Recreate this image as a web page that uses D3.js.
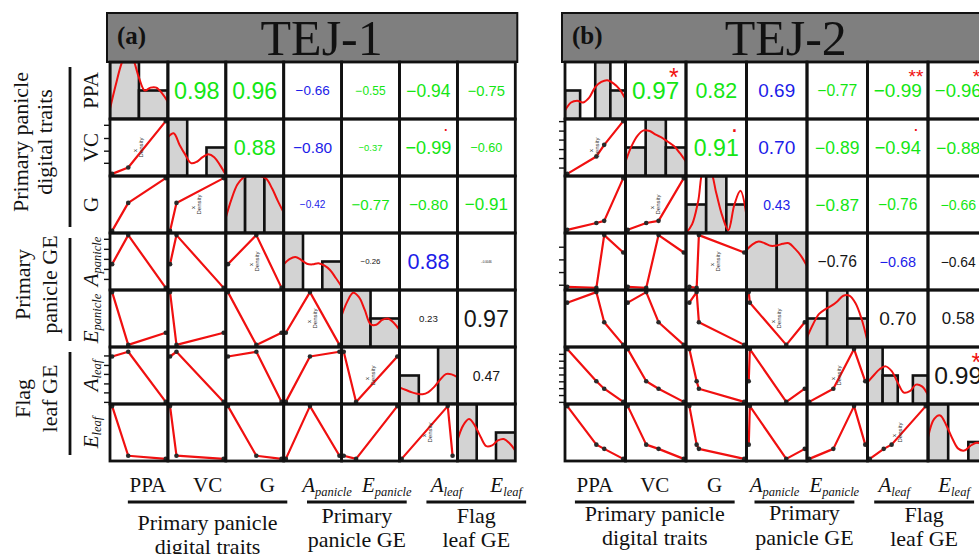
<!DOCTYPE html>
<html><head><meta charset="utf-8">
<script src="https://cdn.jsdelivr.net/npm/d3@7"></script>
<style>body{margin:0;background:#fff}svg{display:block}</style>
</head><body>
<svg id="chart" width="979" height="554"></svg>
<script>
// ---------------- DATA ----------------
const traits = ["PPA","VC","G","Apanicle","Epanicle","Aleaf","Eleaf"];
const traitMain = ["PPA","VC","G","A","E","A","E"];
const traitSub  = ["","","","panicle","panicle","leaf","leaf"];
const groupNames = [["Primary panicle","digital traits"],["Primary","panicle GE"],["Flag","leaf GE"]];
const groupSpans = [[0,2],[3,4],[5,6]];

// TEJ-1 observations (n = 3), each trait scaled to its own range
const tej1PPA = [0, 0.30, 1];
const tej1VC  = [0, 0.12, 1];
const tej1G   = [0, 0.53, 1];
const tej1Ap  = [0.45, 1, 0];
const tej1Ep  = [1, 0, 0.23];
const tej1Al  = [0.86, 0.95, 0];
const tej1El  = [1, 0.06, 0];
// TEJ-2 observations (n = 4)
const tej2PPA = [0, 0.52, 0.66, 1];
const tej2VC  = [0, 0.33, 0.55, 1];
const tej2G   = [0.02, 0.15, 0.19, 1];
const tej2Ap  = [0.02, 0, 1, 0.67];
const tej2Ep  = [0.8, 1, 0.43, 0];
const tej2Al  = [1, 0.39, 0.25, 0];
const tej2El  = [1, 0.27, 0.19, 0];

// correlations, upper triangle row by row
const tej1R = [0.98, 0.96, -0.66, -0.55, -0.94, -0.75,
               0.88, -0.80, -0.37, -0.99, -0.60,
               -0.42, -0.77, -0.80, -0.91,
               -0.26, 0.88, -0.0046,
               0.23, 0.97,
               0.47];
const tej1Sig = ["","","","","","",  "","","",".","",  "","","","",  "","","",  "","",  ""];
const tej2R = [0.97, 0.82, 0.69, -0.77, -0.99, -0.96,
               0.91, 0.70, -0.89, -0.94, -0.88,
               0.43, -0.87, -0.76, -0.66,
               -0.76, -0.68, -0.64,
               0.70, 0.58,
               0.99];
const tej2Sig = ["*","","","","**","*",  ".","","",".","",  "","","","",  "","","",  "","",  "*"];

// histogram counts on the diagonal
const tej1HistPPA = [2,1], tej1HistVC = [2,0,1], tej1HistG = [1,1,1], tej1HistAp = [2,0,1],
      tej1HistEp = [2,1], tej1HistAl = [1,0,2], tej1HistEl = [2,0,1];
const tej2HistPPA = [1,0,2,1], tej2HistVC = [1,2,1], tej2HistG = [1,2,1], tej2HistAp = [2,2],
      tej2HistEp = [1,2,1], tej2HistAl = [2,1,0,1], tej2HistEl = [3,0,1];

// density curves (count units), sampled evenly across each diagonal panel
const tej1DensPPA = [0.36,1.2,1.95,2.4,2.1,1.45,1.0,1.1,1.1,0.9,0.6];
const tej1DensVC  = [1.36,1.5,1.1,0.75,0.45,0.5,0.66,0.76,0.66,0.38,0.04];
const tej1DensG   = [0.27,0.6,0.85,0.97,1.02,1.03,1.0,0.95,0.78,0.56,0.36];
const tej1DensAp  = [0.9,1.08,1.16,1.06,0.92,0.9,0.94,0.86,0.7,0.42,0.12];
const tej1DensEp  = [1.1,1.6,1.9,1.75,1.3,0.8,0.78,0.95,1.0,0.85,0.6];
const tej1DensAl  = [0.58,0.5,0.42,0.36,0.34,0.42,0.6,0.85,1.05,1.04,0.94];
const tej1DensEl  = [0.72,1.25,1.47,1.25,0.85,0.52,0.55,0.72,0.77,0.62,0.36];
const tej2DensPPA = [0.3,0.58,0.64,0.58,0.75,1.12,1.3,1.36,1.25,1.05,0.7];
const tej2DensVC  = [0.5,1.05,1.42,1.6,1.58,1.45,1.35,1.2,1.05,0.8,0.5];
const tej2DensG   = [0,0.3,1.1,2.3,2.2,1.4,0.6,0.1,1.0,1.48,0.6];
const tej2DensAp  = [1.4,1.6,1.7,1.64,1.55,1.56,1.62,1.64,1.45,1.2,0.84];
const tej2DensEp  = [0.34,0.8,1.16,1.32,1.44,1.6,1.8,1.8,1.54,1.0,0.2];
const tej2DensAl  = [0.76,1.0,1.22,1.32,1.15,0.75,0.4,0.45,0.68,0.62,0.32];
const tej2DensEl  = [1.23,2.2,2.4,1.9,1.2,0.65,0.55,0.8,0.96,0.9,0.7];

// left-axis tick values (scaled trait units) on rows VC, Apanicle, Aleaf
const tej1TicksVC = [0.21,0.44,0.68,0.93];
const tej1TicksAp = [0.17,0.36,0.55,0.74,0.93];
const tej1TicksAl = [0,0.18,0.35,0.53,0.7,0.88];
const tej2TicksVC = [0.12,0.3,0.47,0.65,0.82,1.0];
const tej2TicksAp = [0.06,0.3,0.54,0.78];
const tej2TicksAl = [0,0.13,0.26,0.39,0.52,0.65,0.78,0.91];

// ---------------- DRAWING ----------------
const SANS = "'Liberation Sans', Arial, sans-serif";
const SERIF = "'Liberation Serif', 'Times New Roman', serif";
const GREEN = "#14e614", BLUE = "#1c1ce8", BLACK = "#161616", RED = "#f01010";
const n = traits.length;
const svg = d3.select("#chart");

const meas = svg.append("text").attr("font-family", SANS).attr("font-size", 100).attr("visibility", "hidden");
function textLen(s) { meas.text(s); return meas.node().getComputedTextLength(); }
const fmt2 = d3.format(".2f"), fmt4 = d3.format(".4f");
function fmtR(r) { return Math.abs(r) < 0.01 ? fmt4(r) : fmt2(r); }
function corColor(i, j) {
  if (j === 3 && i <= 2) return BLUE;
  if (i === 3 && j === 5) return BLUE;
  if (i <= 2) return GREEN;
  return BLACK;
}
function upperIndex(i, j) { return i * n - i * (i + 1) / 2 + (j - i - 1); }

const panels = [
  { tag: "(a)", title: "TEJ-1", x0: 110, y0: 62, cw: 57.9, ch: 57,
    obs: [tej1PPA, tej1VC, tej1G, tej1Ap, tej1Ep, tej1Al, tej1El],
    hist: [tej1HistPPA, tej1HistVC, tej1HistG, tej1HistAp, tej1HistEp, tej1HistAl, tej1HistEl],
    dens: [tej1DensPPA, tej1DensVC, tej1DensG, tej1DensAp, tej1DensEp, tej1DensAl, tej1DensEl],
    r: tej1R, sig: tej1Sig, ticks: {1: tej1TicksVC, 3: tej1TicksAp, 5: tej1TicksAl},
    labX: [118, 536], groupBase: [[530, 554], [523, 547], [523, 547]], leftLabels: true },
  { tag: "(b)", title: "TEJ-2", x0: 565, y0: 62, cw: 60.5, ch: 57,
    obs: [tej2PPA, tej2VC, tej2G, tej2Ap, tej2Ep, tej2Al, tej2El],
    hist: [tej2HistPPA, tej2HistVC, tej2HistG, tej2HistAp, tej2HistEp, tej2HistAl, tej2HistEl],
    dens: [tej2DensPPA, tej2DensVC, tej2DensG, tej2DensAp, tej2DensEp, tej2DensAl, tej2DensEl],
    r: tej2R, sig: tej2Sig, ticks: {1: tej2TicksVC, 3: tej2TicksAp, 5: tej2TicksAl},
    labX: [565, 984], groupBase: [[521, 545], [520, 545], [522, 546]], leftLabels: false }
];

function drawPanel(p) {
  const colX = d3.scaleLinear([0, n], [p.x0, p.x0 + n * p.cw]);
  const rowY = d3.scaleLinear([0, n], [p.y0, p.y0 + n * p.ch]);
  const g = svg.append("g");

  // header bar
  g.append("rect").attr("x", p.x0 - 3).attr("y", 13).attr("width", n * p.cw + 5).attr("height", p.y0 - 13)
    .attr("fill", "#7f7f7f").attr("stroke", "#111").attr("stroke-width", 2);
  g.append("text").attr("x", p.x0 + 7).attr("y", 44).attr("font-family", SERIF).attr("font-weight", "bold")
    .attr("font-size", 25).attr("fill", "#111").text(p.tag);
  g.append("text").attr("x", p.x0 + n * p.cw / 2 + 9).attr("y", 55).attr("text-anchor", "middle")
    .attr("font-family", SERIF).attr("font-size", 50).attr("fill", "#111").text(p.title);

  const sx = d3.scaleLinear([-0.04, 1.04], [0, p.cw]);
  const sy = d3.scaleLinear([-0.04, 1.04], [p.ch, 0]);

  for (let i = 0; i < n; i++) {
    for (let j = 0; j < n; j++) {
      const cell = g.append("svg").attr("x", colX(j)).attr("y", rowY(i))
        .attr("width", p.cw).attr("height", p.ch).attr("overflow", "hidden");
      cell.append("rect").attr("width", p.cw).attr("height", p.ch).attr("fill", "#fff");
      if (i === j) {
        const counts = p.hist[i], nb = counts.length, maxC = d3.max(counts);
        const hx = d3.scaleLinear([0, nb], [0, p.cw]);
        const hy = d3.scaleLinear([0, maxC], [p.ch, 0]);
        cell.selectAll("rect.bar").data(counts.map((c, k) => ({c, k})).filter(d => d.c > 0)).join("rect")
          .attr("class", "bar").attr("x", d => hx(d.k)).attr("width", d => hx(d.k + 1) - hx(d.k))
          .attr("y", d => hy(d.c)).attr("height", d => p.ch - hy(d.c))
          .attr("fill", "#d3d3d3").attr("stroke", "#111").attr("stroke-width", 2.6);
        const dens = p.dens[i];
        const dx = d3.scaleLinear([0, dens.length - 1], [0, p.cw]);
        const line = d3.line().x((d, k) => dx(k)).y(d => hy(d)).curve(d3.curveCatmullRom.alpha(0.5));
        cell.append("path").attr("d", line(dens)).attr("fill", "none").attr("stroke", RED).attr("stroke-width", 2);
      } else if (i > j) {
        const xs = p.obs[j], ys = p.obs[i];
        const pts = d3.sort(xs.map((x, k) => [x, ys[k]]), d => d[0]);
        cell.append("path").attr("d", d3.line().x(d => sx(d[0])).y(d => sy(d[1]))(pts))
          .attr("fill", "none").attr("stroke", RED).attr("stroke-width", 2.2).attr("stroke-linejoin", "round");
        cell.selectAll("circle").data(pts).join("circle")
          .attr("cx", d => sx(d[0])).attr("cy", d => sy(d[1])).attr("r", 2.3).attr("fill", "#2a2a2a");
        if (i === j + 1) {
          cell.append("text").attr("transform", `translate(${p.cw / 2 + 4},${p.ch / 2}) rotate(-90)`)
            .attr("text-anchor", "middle").attr("font-family", SANS).attr("font-size", 6).attr("fill", "#333").text("Density");
          cell.append("text").attr("transform", `translate(${p.cw / 2 - 2},${p.ch / 2 + 3}) rotate(-90)`)
            .attr("text-anchor", "middle").attr("font-family", SANS).attr("font-size", 6).attr("fill", "#333").text("x");
        }
      } else {
        const k = upperIndex(i, j);
        const r = p.r[k], txt = fmtR(r);
        const base = 100 * 0.8 * p.cw / textLen(txt);
        const fs = base * (Math.abs(r) + 0.3) / 1.3;
        cell.append("text").attr("x", p.cw / 2).attr("y", p.ch / 2).attr("text-anchor", "middle")
          .attr("dominant-baseline", "central").attr("font-family", SANS).attr("font-size", fs)
          .attr("fill", corColor(i, j)).text(txt);
        const s = p.sig[k];
        if (s) {
          cell.append("text").attr("x", 0.8 * p.cw).attr("y", 0.2 * p.ch + (s === "." ? 0.05 : 0.5) * base)
            .attr("text-anchor", "middle").attr("font-family", SANS).attr("font-size", base)
            .attr("fill", RED).text(s);
        }
      }
    }
  }
  // cell borders
  for (let i = 0; i < n; i++) for (let j = 0; j < n; j++) {
    g.append("rect").attr("x", colX(j)).attr("y", rowY(i)).attr("width", p.cw).attr("height", p.ch)
      .attr("fill", "none").attr("stroke", "#111").attr("stroke-width", 2.8);
  }
  // left ticks
  Object.entries(p.ticks).forEach(([ri, vals]) => {
    const i = +ri;
    const ys = d3.scaleLinear([-0.04, 1.04], [rowY(i + 1), rowY(i)]);
    const ax = g.append("g").attr("transform", `translate(${p.x0 - 1},0)`)
      .call(d3.axisLeft(ys).tickValues(vals).tickFormat("").tickSize(5).tickSizeOuter(0));
    ax.select(".domain").remove();
    ax.selectAll("line").attr("stroke", "#111").attr("stroke-width", 1.4);
  });

  // bottom labels
  const lb = d3.scaleBand().domain(d3.range(n)).range(p.labX);
  const cx = k => lb(k) + lb.bandwidth() / 2;
  for (let k = 0; k < n; k++) {
    const t = g.append("text").attr("x", cx(k)).attr("y", 492).attr("text-anchor", "middle")
      .attr("font-family", SERIF).attr("font-size", 21).attr("fill", "#111");
    if (traitSub[k]) {
      t.append("tspan").attr("font-style", "italic").text(traitMain[k]);
      t.append("tspan").attr("font-style", "italic").attr("font-size", 12.5).attr("dy", 4).text(traitSub[k]);
    } else t.text(traitMain[k]);
  }
  groupSpans.forEach((sp, gi) => {
    const x1 = cx(sp[0]) - 20, x2 = cx(sp[1]) + 20;
    g.append("line").attr("x1", x1).attr("x2", x2).attr("y1", 502).attr("y2", 502)
      .attr("stroke", "#111").attr("stroke-width", 2.8);
    groupNames[gi].forEach((s, li) => {
      g.append("text").attr("x", (x1 + x2) / 2).attr("y", p.groupBase[gi][li]).attr("text-anchor", "middle")
        .attr("font-family", SERIF).attr("font-size", 22).attr("fill", "#111").text(s);
    });
  });

  // left labels
  if (p.leftLabels) {
    for (let k = 0; k < n; k++) {
      const t = g.append("text").attr("transform", `translate(98,${rowY(k) + p.ch / 2}) rotate(-90)`)
        .attr("text-anchor", "middle").attr("font-family", SERIF).attr("font-size", 21).attr("fill", "#111");
      if (traitSub[k]) {
        t.append("tspan").attr("font-style", "italic").text(traitMain[k]);
        t.append("tspan").attr("font-style", "italic").attr("font-size", 12.5).attr("dy", 3).text(traitSub[k]);
      } else t.text(traitMain[k]);
    }
    const leftBase = [[28, 52], [30, 57], [30, 57]];
    groupSpans.forEach((sp, gi) => {
      const y1 = rowY(sp[0]) + 5, y2 = rowY(sp[1] + 1) - 6;
      g.append("line").attr("x1", 70).attr("x2", 70).attr("y1", y1).attr("y2", y2)
        .attr("stroke", "#111").attr("stroke-width", 2.8);
      const yc = (y1 + y2) / 2 - 5;
      groupNames[gi].forEach((s, li) => {
        g.append("text").attr("transform", `translate(${leftBase[gi][li]},${yc}) rotate(-90)`)
          .attr("text-anchor", "middle").attr("font-family", SERIF).attr("font-size", 22).attr("fill", "#111").text(s);
      });
    });
  }
}
panels.forEach(drawPanel);
meas.remove();
</script>
</body></html>
